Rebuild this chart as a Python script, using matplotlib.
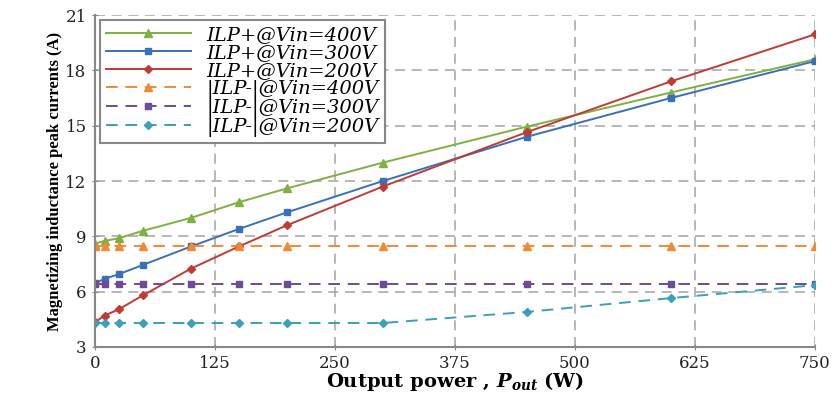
import numpy as np
import matplotlib
matplotlib.use('Agg')
import matplotlib.pyplot as plt

# output power (W)
power = [0, 10, 25, 50, 100, 150, 200, 300, 450, 600, 750]

# peak currents (A)
ilp_pos_400 = [8.6, 8.75, 8.9, 9.3, 10.0, 10.85, 11.6, 13.0, 14.95, 16.8, 18.6]
ilp_pos_300 = [6.45, 6.7, 6.95, 7.45, 8.45, 9.4, 10.3, 12.0, 14.4, 16.5, 18.5]
ilp_pos_200 = [4.35, 4.7, 5.05, 5.8, 7.25, 8.45, 9.6, 11.7, 14.65, 17.4, 19.95]
ilp_neg_400 = [8.5, 8.5, 8.5, 8.5, 8.5, 8.5, 8.5, 8.5, 8.5, 8.5, 8.5]
ilp_neg_300 = [6.4, 6.4, 6.4, 6.4, 6.4, 6.4, 6.4, 6.4, 6.4, 6.4, 6.4]
ilp_neg_200 = [4.3, 4.3, 4.3, 4.3, 4.3, 4.3, 4.3, 4.3, 4.9, 5.65, 6.35]

labels = ['ILP+@Vin=400V', 'ILP+@Vin=300V', 'ILP+@Vin=200V',
          '|ILP-|@Vin=400V', '|ILP-|@Vin=300V', '|ILP-|@Vin=200V']

x_ticks = [0, 125, 250, 375, 500, 625, 750]
y_ticks = [3, 6, 9, 12, 15, 18, 21]

# the source picture is stretched sideways, so use the wider serif
plt.rcParams['font.family'] = ['DejaVu Serif']
plt.rcParams['mathtext.fontset'] = 'custom'
plt.rcParams['mathtext.rm'] = 'DejaVu Serif'
plt.rcParams['mathtext.it'] = 'DejaVu Serif:italic'
plt.rcParams['mathtext.bf'] = 'DejaVu Serif:bold'
plt.rcParams['mathtext.bfit'] = 'DejaVu Serif:bold:italic'

fig = plt.figure(figsize=(8.33, 3.97), dpi=100)
ax = fig.add_axes([0.114, 0.126, 0.864, 0.836])

dash = (0, (6, 4))
ax.plot(power, ilp_pos_400, color='#7fb042', marker='^', ms=5.5, lw=1.4, label=labels[0])
ax.plot(power, ilp_pos_300, color='#3a70b8', marker='s', ms=4.5, lw=1.4, label=labels[1])
ax.plot(power, ilp_pos_200, color='#be3b36', marker='D', ms=4.5, lw=1.4, label=labels[2])
ax.plot(power, ilp_neg_400, color='#f08a36', marker='^', ms=5.5, lw=1.4, ls=dash, label=labels[3])
ax.plot(power, ilp_neg_300, color='#6e4a9a', marker='s', ms=4.5, lw=1.4, ls=dash, label=labels[4])
ax.plot(power, ilp_neg_200, color='#3aa0bc', marker='D', ms=4.5, lw=1.4, ls=dash, label=labels[5])

ax.set_xlim(0, 750)
ax.set_ylim(3, 21)
ax.set_xticks(x_ticks)
ax.set_yticks(y_ticks)
ax.tick_params(labelsize=12, color='#888888', length=5, direction='inout', labelcolor='#222222')
ax.tick_params(axis='x', pad=3)
ax.grid(True, color='#aaaaaa', ls=(0, (6, 4)), lw=1.2)
ax.set_axisbelow(True)

for s in ['top', 'right']:
    ax.spines[s].set_visible(False)
for s in ['left', 'bottom']:
    ax.spines[s].set_color('#888888')
    ax.spines[s].set_linewidth(1.5)

ax.set_xlabel('Output power , $\\mathbfit{P_{out}}$ (W)', fontsize=14, fontweight='bold', labelpad=-1)
ax.set_ylabel('Magnetizing inductance peak currents (A)', family='Liberation Serif',
              fontsize=12, fontweight='bold', labelpad=2)

leg = ax.legend(loc='upper left', prop={'style': 'italic', 'size': 14},
                fancybox=False, framealpha=1, edgecolor='#888888',
                handlelength=4.4, handletextpad=0.8, labelspacing=0.0,
                borderaxespad=0.25, borderpad=0.3)
leg.get_frame().set_linewidth(1.5)

fig.savefig('out.png', dpi=100)
